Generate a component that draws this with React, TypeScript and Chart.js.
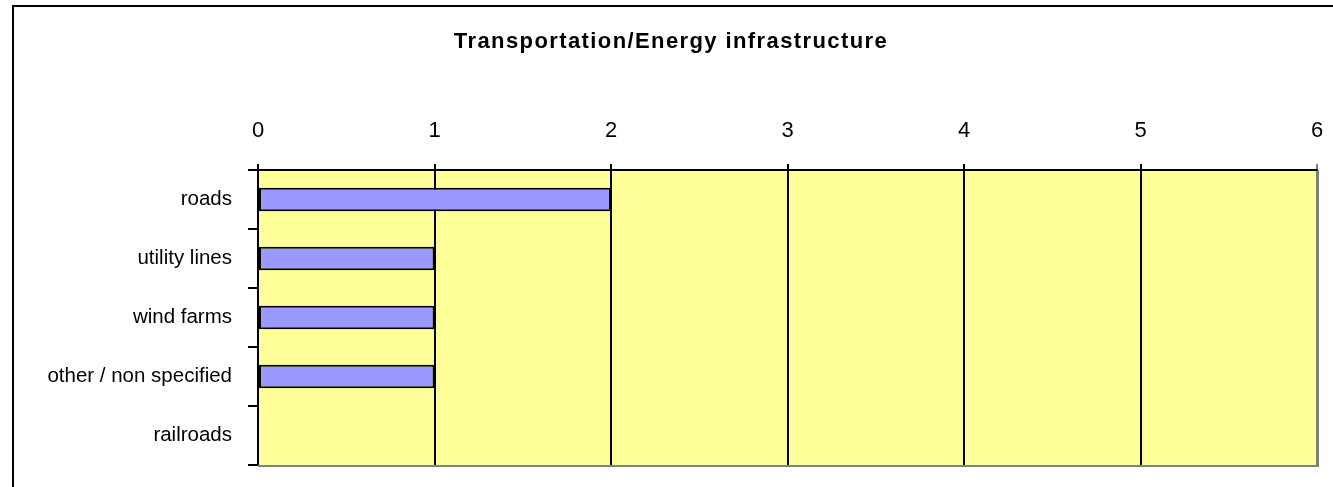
import React, { useEffect, useRef } from "react";
import { Chart, registerables } from "chart.js";

Chart.register(...registerables);

const titleText = "Transportation/Energy infrastructure";
const categories = ["roads", "utility lines", "wind farms", "other / non specified", "railroads"];
const values = [2, 1, 1, 1, 0];
const xTicks = [0, 1, 2, 3, 4, 5, 6];

const FONT = "Arial, 'Liberation Sans', sans-serif";

const plotBg = {
  id: "plotBg",
  beforeDraw(chart: any) {
    const { ctx, chartArea } = chart;
    ctx.save();
    ctx.fillStyle = "#FFFF99";
    ctx.fillRect(chartArea.left, chartArea.top, chartArea.right - chartArea.left, chartArea.bottom - chartArea.top);
    ctx.restore();
  },
  afterDraw(chart: any) {
    const { ctx, chartArea } = chart;
    ctx.save();
    ctx.strokeStyle = "#808080";
    ctx.lineWidth = 2;
    ctx.beginPath();
    ctx.moveTo(chartArea.left, chartArea.bottom + 1);
    ctx.lineTo(chartArea.right + 1, chartArea.bottom + 1);
    ctx.lineTo(chartArea.right + 1, chartArea.top);
    ctx.stroke();
    // title
    ctx.fillStyle = "#000";
    ctx.font = `bold 22px ${FONT}`;
    (ctx as any).letterSpacing = "1.4px";
    ctx.textAlign = "center";
    ctx.textBaseline = "alphabetic";
    ctx.fillText(titleText, 671, 48);
    ctx.restore();
  },
};

export default function App() {
  const ref = useRef<HTMLCanvasElement>(null);
  useEffect(() => {
    if (!ref.current) return;
    const chart = new Chart(ref.current, {
      type: "bar",
      data: {
        labels: categories,
        datasets: [
          {
            data: values,
            backgroundColor: "#9999FF",
            borderColor: "#000000",
            borderWidth: 2,
            borderSkipped: false,
            categoryPercentage: 1,
            barPercentage: 0.4,
          },
        ],
      },
      options: {
        indexAxis: "y",
        animation: false,
        responsive: false,
        maintainAspectRatio: false,
        layout: { padding: { left: 0, right: 16, top: 50, bottom: 22 } },
        plugins: {
          legend: { display: false },
          tooltip: { enabled: false },
          title: { display: false },
        },
        scales: {
          x: {
            position: "top",
            min: 0,
            max: 6,
            afterBuildTicks(scale: any) {
              scale.ticks = xTicks.map((v) => ({ value: v }));
            },
            afterFit(scale: any) {
              scale.height = 120;
              scale.paddingLeft = 0;
              scale.paddingRight = 0;
            },
            ticks: {
              color: "#000",
              padding: 20,
              maxRotation: 0,
              font: { family: FONT, size: 22 },
            },
            grid: {
              color: (c: any) => (c.tick && c.tick.value === 6 ? "#808080" : "#000000"),
              lineWidth: 2,
              tickLength: 6,
              drawTicks: true,
            },
            border: { display: true, color: "#000", width: 2 },
          },
          y: {
            afterFit(scale: any) {
              scale.width = 258;
              scale.paddingTop = 0;
              scale.paddingBottom = 0;
            },
            ticks: {
              color: "#000",
              padding: 16,
              font: { family: FONT, size: 20.5 },
            },
            grid: {
              offset: true,
              drawOnChartArea: false,
              drawTicks: true,
              tickLength: 10,
              color: "#000",
              lineWidth: 2,
            },
            border: { display: true, color: "#000", width: 2 },
          },
        },
      },
      plugins: [plotBg],
    });
    return () => chart.destroy();
  }, []);

  return (
    <div style={{ position: "fixed", left: 0, top: 0, width: 1333, height: 487, overflow: "hidden", background: "#fff" }}>
      <div
        style={{
          position: "absolute",
          left: 12,
          top: 5,
          width: 1400,
          height: 600,
          border: "2px solid #000",
          boxSizing: "border-box",
        }}
      />
      <canvas ref={ref} width={1333} height={487} style={{ position: "absolute", left: 0, top: 0, width: 1333, height: 487 }} />
    </div>
  );
}
